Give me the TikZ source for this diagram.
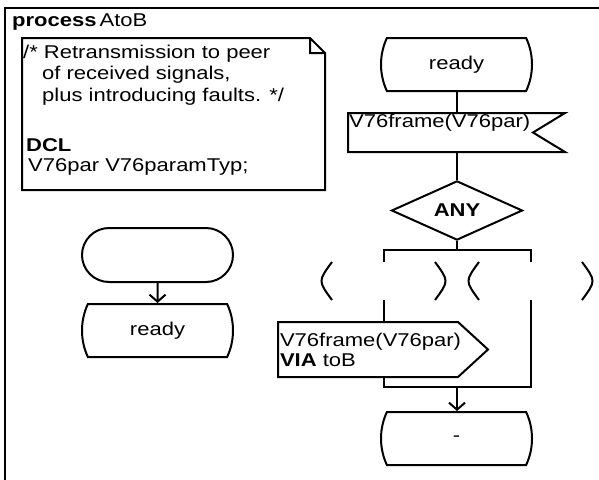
\documentclass[tikz,border=0pt]{standalone}
\usepackage{fontspec}
\setmainfont[FakeStretch=1.19]{Liberation Sans}
\usetikzlibrary{shapes.geometric,shapes.misc,arrows.meta}

\tikzset{
  sdl/.style={draw, line width=2pt, inner sep=1pt},
  state/.style={sdl, rounded rectangle, rounded rectangle arc length=50,
    minimum width=153pt, minimum height=53pt},
  start/.style={sdl, rounded rectangle, minimum width=153pt, minimum height=54pt},
  sigbody/.style={outer sep=0pt, inner sep=2pt, align=left},
  decision/.style={sdl, diamond, minimum width=131pt, minimum height=55pt, inner sep=0pt},
  answer/.style={minimum width=117pt, minimum height=38pt, outer sep=0pt},
  flow/.style={line width=2pt},
  arr/.style={flow, -{Straight Barb[length=7pt,width=16pt]}},
}

\begin{document}
\begin{tikzpicture}[x=1pt, y=-1pt, font=\fontsize{18.5}{21.2}\selectfont]
  \useasboundingbox (0,0) rectangle (599,479);
  % process frame, cut at the page edge
  \draw[line width=2.6pt] (5,482) -- (5,8) -- (602,8);
  \node[anchor=base west, inner sep=0pt] (title) at (12,26.5) {\textbf{process}\hspace{3pt}AtoB};

  % text symbol with the folded corner
  \node[minimum width=303pt, minimum height=152pt, outer sep=0pt] (note) at (173.5,114) {};
  \draw[flow] (note.north west) -- ([xshift=-15pt]note.north east) -- ([yshift=-15pt]note.north east)
    -- (note.south east) -- (note.south west) -- cycle
    ([xshift=-15pt]note.north east) |- ([yshift=-15pt]note.north east);
  \node[anchor=north west, align=left, inner sep=0pt] (decl) at (23,45)
    {/* Retransmission to peer\\ \hspace*{19pt}of received signals,\\
     \hspace*{19pt}plus introducing faults. */\\[29pt]
     \hspace*{3pt}\textbf{DCL}\\[-1pt] \hspace*{5pt}V76par V76paramTyp;};

  % start transition
  \node[start] (st) at (157.5,255) {};
  \node[state] (ready2) at (157.5,330.5) {ready};
  \draw[arr] (st) -- (ready2);

  % input transition
  \node[state] (ready1) at (456.5,64.5) {ready};
  \node[sigbody, minimum width=185pt, minimum height=39pt] (in) at (440.5,132.5) {};
  \node[anchor=base west, inner sep=0pt] (intext) at ([xshift=1pt,yshift=5pt]in.west) {V76frame(V76par)};
  \draw[flow] (in.north west) -- ([xshift=32pt]in.north east) -- (in.east)
    -- ([xshift=32pt]in.south east) -- (in.south west) -- cycle;
  \node[decision] (any) at (457,210.5) {\textbf{ANY}};
  \node[answer] (ans1) at (383.5,281) {};
  \node[answer] (ans2) at (530.5,281) {};
  \node[sigbody, text width=176pt, minimum height=55pt, font=\fontsize{18.5}{20}\selectfont]
    (out) at (368,349.5) {V76frame(V76par)\\\textbf{VIA} toB};
  \draw[flow] (out.north west) -- (out.north east) -- ([xshift=30pt]out.east)
    -- (out.south east) -- (out.south west) -- cycle;
  \node[state] (dash) at (456.5,438.5) {-};
  \coordinate (bar) at (457,250);
  \coordinate (join) at (457,387);

  \draw[flow] (ready1.south) -- (ready1.south |- in.north);
  \draw[flow] (any.north |- in.south) -- (any.north);
  \draw[flow] (any.south) -- (bar) (ans1.north) |- (bar) -| (ans2.north);
  \draw[flow] (ans1.south) -- (ans1.south |- out.north);
  \draw[flow] (ans1 |- out.south) |- (join) -| (ans2.south);
  \draw[arr] (join) -- (join |- dash.north);

  % brackets round the empty answers
  \foreach \a in {ans1,ans2} {
    \draw[flow] ([xshift=7pt]\a.north west) .. controls ([xshift=-7pt]\a.west) .. ([xshift=7pt]\a.south west)
      ([xshift=-7pt]\a.north east) .. controls ([xshift=7pt]\a.east) .. ([xshift=-7pt]\a.south east);
  }
\end{tikzpicture}
\end{document}
